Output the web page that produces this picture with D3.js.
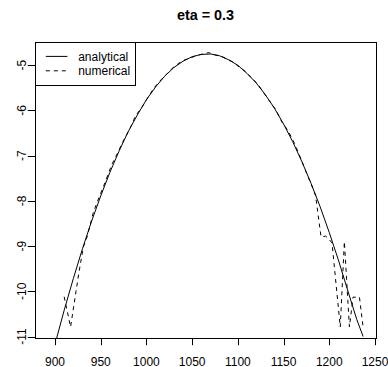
<!DOCTYPE html>
<html>
<head>
<meta charset="utf-8">
<script src="https://d3js.org/d3.v7.min.js"></script>
<style>
  body { margin: 0; background: #fff; }
  text { font-family: "Liberation Sans", Arial, Helvetica, sans-serif; fill: #000; }
</style>
</head>
<body>
<div id="chart"></div>
<script>
// values
var xTicks = [900, 950, 1000, 1050, 1100, 1150, 1200, 1250];
var yTicks = [-11, -10, -9, -8, -7, -6, -5];

var anaX = [900, 910, 920, 930, 940, 950, 960, 970, 980, 990, 1000, 1010, 1020, 1030, 1040, 1050, 1060, 1070,
            1080, 1090, 1100, 1110, 1120, 1130, 1140, 1150, 1160, 1170, 1180, 1190, 1200, 1210, 1220, 1230, 1237];
var anaY = [-11.17, -10.42, -9.72, -9.06, -8.45, -7.89, -7.37, -6.90, -6.47, -6.10, -5.76, -5.48, -5.24, -5.05, -4.91, -4.81, -4.76, -4.75,
            -4.79, -4.88, -5.00, -5.18, -5.39, -5.65, -5.95, -6.30, -6.69, -7.13, -7.61, -8.13, -8.70, -9.31, -9.97, -10.62, -11.0];

var numX = [910, 917, 926, 931, 935, 942, 948, 955, 962, 968, 975, 982, 988, 995, 1002, 1008, 1015, 1022, 1028, 1035,
            1042, 1048, 1055, 1062, 1068, 1075, 1082, 1088, 1095, 1102, 1108, 1115, 1122, 1128, 1135, 1142, 1148, 1155,
            1162, 1168, 1175, 1180, 1185, 1191, 1196, 1199, 1203, 1212, 1216.5, 1222, 1226, 1233, 1237];
var numY = [-10.12, -10.79, -9.6, -9.02, -8.80, -8.25, -7.93, -7.58, -7.20, -6.96, -6.66, -6.40, -6.12, -5.93, -5.70, -5.51, -5.34, -5.20, -5.07, -4.96,
            -4.88, -4.84, -4.78, -4.75, -4.72, -4.77, -4.80, -4.86, -4.93, -5.05, -5.13, -5.28, -5.42, -5.60, -5.80, -6.00, -6.25, -6.45,
            -6.73, -7.02, -7.38, -7.62, -7.88, -8.80, -8.78, -8.83, -8.93, -10.79, -8.90, -10.79, -10.13, -10.13, -10.79];

var legendLabels = ["analytical", "numerical"];

const width = 388, height = 367;
const box = { left: 35, right: 376, top: 42, bottom: 338 };

var svg = d3.select("#chart")
  .append("svg")
  .attr("width", width)
  .attr("height", height);

var x = d3.scaleLinear()
  .domain([878.1, 1251.1])
  .range([box.left, box.right]);

var y = d3.scaleLinear()
  .domain([-11.033, -4.485])
  .range([box.bottom, box.top]);

// title
svg.append("text")
  .attr("x", (box.left + box.right) / 2)
  .attr("y", 20)
  .attr("text-anchor", "middle")
  .style("font-size", "14.4px")
  .style("font-weight", "bold")
  .text("eta = 0.3");

// clip lines to plot region
svg.append("clipPath")
  .attr("id", "plot-clip")
  .append("rect")
  .attr("x", box.left)
  .attr("y", box.top)
  .attr("width", box.right - box.left)
  .attr("height", box.bottom - box.top);

var line = d3.line()
  .x(d => x(d[0]))
  .y(d => y(d[1]));

var anaData = anaX.map((v, i) => [v, anaY[i]]);
var numData = numX.map((v, i) => [v, numY[i]]);

var plot = svg.append("g").attr("clip-path", "url(#plot-clip)");

plot.append("path")
  .datum(anaData)
  .attr("d", line)
  .attr("fill", "none")
  .attr("stroke", "#000")
  .attr("stroke-width", 1);

plot.append("path")
  .datum(numData)
  .attr("d", line)
  .attr("fill", "none")
  .attr("stroke", "#000")
  .attr("stroke-width", 1)
  .attr("stroke-dasharray", "4,4");

// x axis
var xAxis = svg.append("g");
xAxis.append("line")
  .attr("x1", x(xTicks[0])).attr("x2", x(xTicks[xTicks.length - 1]))
  .attr("y1", box.bottom + 0.5).attr("y2", box.bottom + 0.5)
  .attr("stroke", "#000");
xAxis.selectAll(".xtick")
  .data(xTicks)
  .enter().append("line")
  .attr("x1", d => Math.round(x(d)) + 0.5).attr("x2", d => Math.round(x(d)) + 0.5)
  .attr("y1", box.bottom).attr("y2", box.bottom + 7.2)
  .attr("stroke", "#000");
xAxis.selectAll(".xlab")
  .data(xTicks)
  .enter().append("text")
  .attr("x", d => x(d))
  .attr("y", 365.5)
  .attr("text-anchor", "middle")
  .style("font-size", "12px")
  .text(d => d);

// y axis
var yAxis = svg.append("g");
yAxis.append("line")
  .attr("x1", box.left + 0.5).attr("x2", box.left + 0.5)
  .attr("y1", y(yTicks[0])).attr("y2", y(yTicks[yTicks.length - 1]))
  .attr("stroke", "#000");
yAxis.selectAll(".ytick")
  .data(yTicks)
  .enter().append("line")
  .attr("x1", box.left).attr("x2", box.left - 7.2)
  .attr("y1", d => Math.round(y(d)) + 0.5).attr("y2", d => Math.round(y(d)) + 0.5)
  .attr("stroke", "#000");
yAxis.selectAll(".ylab")
  .data(yTicks)
  .enter().append("text")
  .attr("transform", d => `translate(26,${y(d)}) rotate(-90)`)
  .attr("text-anchor", "middle")
  .style("font-size", "12px")
  .text(d => String(d));

// plot box
svg.append("rect")
  .attr("x", box.left + 0.5)
  .attr("y", box.top + 0.5)
  .attr("width", box.right - box.left)
  .attr("height", box.bottom - box.top)
  .attr("fill", "none")
  .attr("stroke", "#000");

// legend
var legend = svg.append("g");
legend.append("rect")
  .attr("x", box.left + 0.5)
  .attr("y", box.top + 0.5)
  .attr("width", 100)
  .attr("height", 43)
  .attr("fill", "#fff")
  .attr("stroke", "#000");

var items = legend.selectAll(".item")
  .data(legendLabels)
  .enter().append("g")
  .attr("transform", (d, i) => `translate(0,${box.top + 14.4 + i * 14.4})`);

items.append("line")
  .attr("x1", 45.8).attr("x2", 67.4)
  .attr("y1", 0).attr("y2", 0)
  .attr("stroke", "#000")
  .attr("stroke-dasharray", (d, i) => i === 1 ? "4,4" : null);

items.append("text")
  .attr("x", 78.2)
  .attr("y", 0)
  .attr("dy", ".35em")
  .style("font-size", "12px")
  .text(d => d);
</script>
</body>
</html>
